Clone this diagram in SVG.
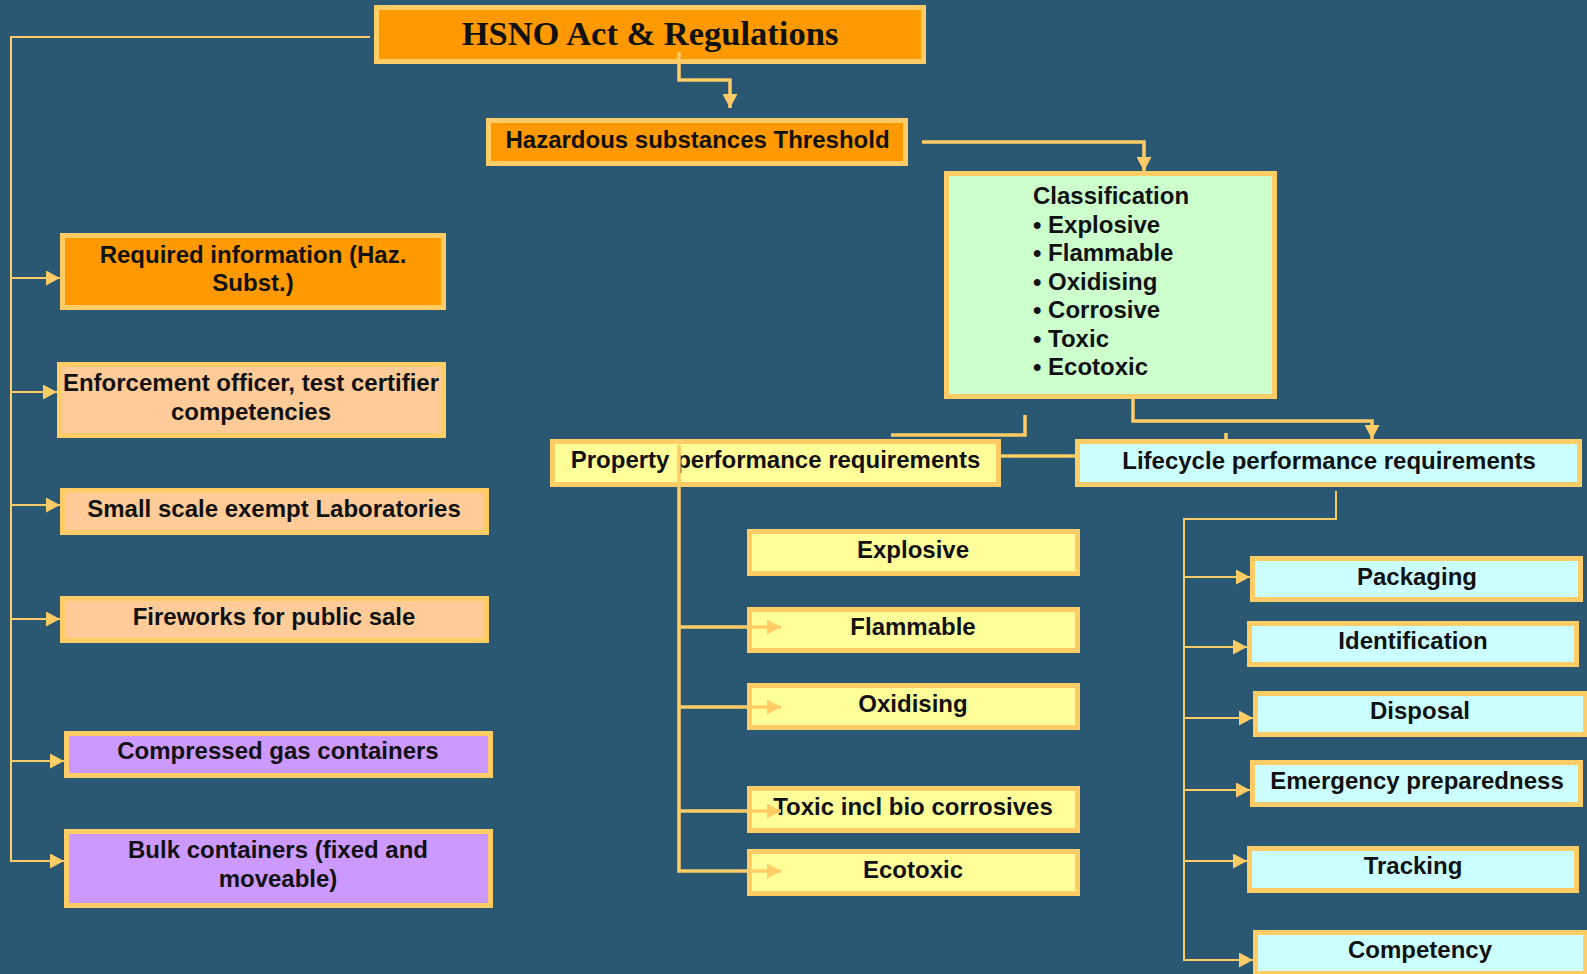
<svg xmlns="http://www.w3.org/2000/svg" width="1587" height="974" viewBox="0 0 1587 974">
<style>
.box{stroke:#FFCC66;stroke-width:5}
.or{fill:#FF9900}.pe{fill:#FFCC99}.pu{fill:#CC99FF}.ye{fill:#FFFF99}.cy{fill:#CCFFFF}.gr{fill:#CCFFCC}
text{font-family:"Liberation Sans",Arial,sans-serif;font-weight:bold;font-size:24px;fill:#111111}
.c{text-anchor:middle}
.title{font-family:"Liberation Serif","Times New Roman",serif;font-size:34.5px}
.ln{fill:none;stroke:#FFCC66;stroke-linejoin:miter}
.thin{stroke-width:2}
.thick{stroke-width:3.5}
</style>
<defs>
<marker id="ah" markerUnits="userSpaceOnUse" markerWidth="14" markerHeight="15" refX="14" refY="7.5" orient="auto" viewBox="0 0 14 15">
<path d="M0,0 L14,7.5 L0,15 z" fill="#FFCC66"/>
</marker>
</defs>
<rect width="1587" height="974" fill="#2A5873"/>

<g id="hsno"><rect class="box or" x="376.5" y="7.5" width="547" height="54"/><text class="c title" x="650" y="45">HSNO Act &amp; Regulations</text></g>
<g id="threshold"><rect class="box or" x="488.5" y="120.5" width="417" height="43"/><text class="c" x="697.5" y="148">Hazardous substances Threshold</text></g>
<g id="classification"><rect class="box gr" x="946.5" y="173.5" width="328" height="223"/>
<text x="1033" y="204">Classification</text>
<text x="1033" y="232.5">• Explosive</text>
<text x="1033" y="261">• Flammable</text>
<text x="1033" y="289.5">• Oxidising</text>
<text x="1033" y="318">• Corrosive</text>
<text x="1033" y="346.5">• Toxic</text>
<text x="1033" y="375">• Ecotoxic</text>
</g>
<g id="property"><rect class="box ye" x="552.5" y="441.5" width="446" height="43"/><text class="c" x="775.5" y="468">Property performance requirements</text></g>
<g id="lifecycle"><rect class="box cy" x="1077.5" y="441.5" width="502" height="43"/><text class="c" x="1329" y="469">Lifecycle performance requirements</text></g>

<g id="p-explosive"><rect class="box ye" x="749.5" y="531.5" width="328" height="42"/><text class="c" x="913" y="558">Explosive</text></g>
<g id="p-flammable"><rect class="box ye" x="749.5" y="609.5" width="328" height="41"/><text class="c" x="913" y="635">Flammable</text></g>
<g id="p-oxidising"><rect class="box ye" x="749.5" y="685.5" width="328" height="42"/><text class="c" x="913" y="712">Oxidising</text></g>
<g id="p-toxic"><rect class="box ye" x="749.5" y="788.5" width="328" height="42"/><text class="c" x="913" y="815">Toxic incl bio corrosives</text></g>
<g id="p-ecotoxic"><rect class="box ye" x="749.5" y="851.5" width="328" height="42"/><text class="c" x="913" y="878">Ecotoxic</text></g>

<g id="required"><rect class="box or" x="62.5" y="235.5" width="381" height="72"/><text class="c" x="253" y="263">Required information (Haz.</text><text class="c" x="253" y="291">Subst.)</text></g>
<g id="enforcement"><rect class="box pe" x="59.5" y="364.5" width="384" height="71"/><text class="c" x="251" y="391">Enforcement officer, test certifier</text><text class="c" x="251" y="420">competencies</text></g>
<g id="labs"><rect class="box pe" x="62.5" y="490.5" width="424" height="42"/><text class="c" x="274" y="517">Small scale exempt Laboratories</text></g>
<g id="fireworks"><rect class="box pe" x="62.5" y="598.5" width="424" height="42"/><text class="c" x="274" y="625">Fireworks for public sale</text></g>
<g id="compressed"><rect class="box pu" x="66.5" y="733.5" width="424" height="42"/><text class="c" x="278" y="759">Compressed gas containers</text></g>
<g id="bulk"><rect class="box pu" x="66.5" y="831.5" width="424" height="74"/><text class="c" x="278" y="858">Bulk containers (fixed and</text><text class="c" x="278" y="887">moveable)</text></g>

<g id="packaging"><rect class="box cy" x="1252.5" y="558.5" width="328" height="41"/><text class="c" x="1417" y="585">Packaging</text></g>
<g id="identification"><rect class="box cy" x="1249.5" y="623.5" width="327" height="41"/><text class="c" x="1413" y="649">Identification</text></g>
<g id="disposal"><rect class="box cy" x="1255.5" y="693.5" width="330" height="41"/><text class="c" x="1420" y="719">Disposal</text></g>
<g id="emergency"><rect class="box cy" x="1252.5" y="762.5" width="328" height="42"/><text class="c" x="1417" y="789">Emergency preparedness</text></g>
<g id="tracking"><rect class="box cy" x="1249.5" y="848.5" width="327" height="42"/><text class="c" x="1413" y="874">Tracking</text></g>
<g id="competency"><rect class="box cy" x="1255.5" y="932.5" width="330" height="41"/><text class="c" x="1420" y="958">Competency</text></g>

<g id="connectors">
<path class="ln thin" d="M370,37 H11 V861 H64" marker-end="url(#ah)"/>
<path class="ln thin" d="M11,278 H60" marker-end="url(#ah)"/>
<path class="ln thin" d="M11,392 H57" marker-end="url(#ah)"/>
<path class="ln thin" d="M11,505 H60" marker-end="url(#ah)"/>
<path class="ln thin" d="M11,619 H60" marker-end="url(#ah)"/>
<path class="ln thin" d="M11,761 H64" marker-end="url(#ah)"/>

<path class="ln thick" d="M679,52 V80 H730 V108" marker-end="url(#ah)"/>
<path class="ln thick" d="M922,142 H1144 V171" marker-end="url(#ah)"/>
<path class="ln thick" d="M1133,399 V421 H1372 V439" marker-end="url(#ah)"/>
<path class="ln thick" d="M1025,415 V435 H891"/>
<path class="ln thick" d="M1226,433 V440"/>
<path class="ln thick" d="M1001,456 H1075"/>

<path class="ln thick" d="M679,445 V871 H781" marker-end="url(#ah)"/>
<path class="ln thick" d="M679,627 H781" marker-end="url(#ah)"/>
<path class="ln thick" d="M679,707 H781" marker-end="url(#ah)"/>
<path class="ln thick" d="M679,811 H781" marker-end="url(#ah)"/>

<path class="ln thin" d="M1336,491 V519 H1184 V960 H1253" marker-end="url(#ah)"/>
<path class="ln thin" d="M1184,577 H1250" marker-end="url(#ah)"/>
<path class="ln thin" d="M1184,647 H1247" marker-end="url(#ah)"/>
<path class="ln thin" d="M1184,718 H1253" marker-end="url(#ah)"/>
<path class="ln thin" d="M1184,790 H1250" marker-end="url(#ah)"/>
<path class="ln thin" d="M1184,861 H1247" marker-end="url(#ah)"/>
</g>
</svg>
